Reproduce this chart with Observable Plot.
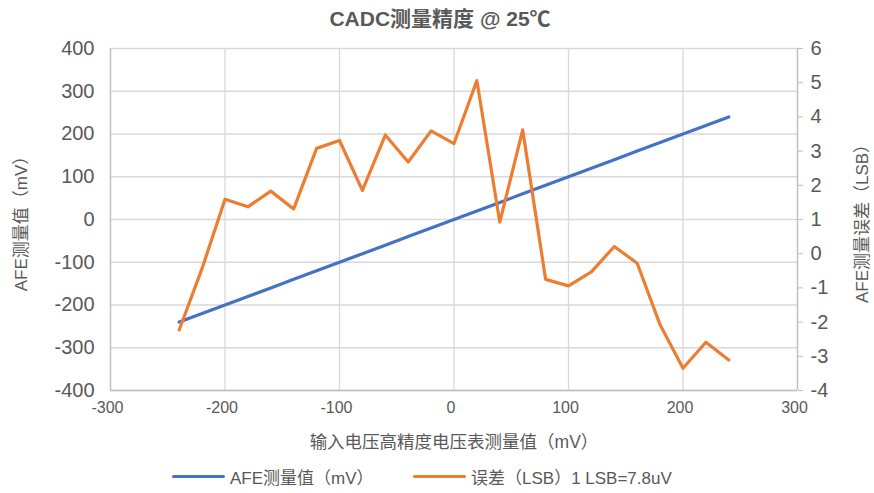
<!DOCTYPE html>
<html>
<head>
<meta charset="utf-8">
<script src="https://cdn.jsdelivr.net/npm/d3@7"></script>
<script src="https://cdn.jsdelivr.net/npm/@observablehq/plot@0.6"></script>
<style>
  body { margin: 0; background: #fff; font-family: "Liberation Sans", "Noto Sans CJK SC", sans-serif; color: #595959; }
  #title { height: 32px; line-height: 38px; text-align: center; font-size: 21px; font-weight: bold; padding-left: 6px; }
  #legend { position: relative; height: 30px; font-size: 17px; }
  .item { position: absolute; top: 4px; display: flex; align-items: center; }
  .sw { display: inline-block; width: 53px; height: 3.5px; margin-right: 5px; border-radius: 2px; }
</style>
</head>
<body>
<div id="title">CADC测量精度 @ 25℃</div>
<div id="chart"></div>
<div id="legend">
  <div class="item" style="left:172px"><span class="sw" style="background:#4472C4"></span>AFE测量值（mV）</div>
  <div class="item" style="left:413px"><span class="sw" style="background:#ED7D31"></span>误差（LSB）1 LSB=7.8uV</div>
</div>
<script>
// input voltage from high-precision voltmeter (mV)
const inputMv = [-240,-220,-200,-180,-160,-140,-120,-100,-80,-60,-40,-20,0,20,40,60,80,100,120,140,160,180,200,220,240];
// AFE measured value (mV)
const afeMv = [-240,-220,-200,-180,-160,-140,-120,-100,-80,-60,-40,-20,0,20,40,60,80,100,120,140,160,180,200,220,240];
// error (LSB)
const errLsb = [-2.23,-0.43,1.59,1.37,1.83,1.31,3.08,3.31,1.85,3.47,2.68,3.59,3.22,5.06,0.92,3.62,-0.75,-0.94,-0.53,0.21,-0.28,-2.08,-3.35,-2.59,-3.11];
const xTicks = [-300,-200,-100,0,100,200,300];
const yTicks = [-400,-300,-200,-100,0,100,200,300,400];
const y2Ticks = [-4,-3,-2,-1,0,1,2,3,4,5,6];

// secondary axis mapping: [-4,6] -> [-400,400]
const toY = v => (v + 4) * 80 - 400;
const fromY = y => (y + 400) / 80 - 4;

const afeData = inputMv.map((x, i) => ({x, y: afeMv[i]}));
const errData = inputMv.map((x, i) => ({x, y: toY(errLsb[i])}));

const fmt = d => String(d);
const grid = "#d9d9d9";
const axisCol = "#bfbfbf";

const chart = Plot.plot({
  width: 874,
  height: 428,
  marginTop: 16,
  marginBottom: 70,
  marginLeft: 110,
  marginRight: 77,
  style: {fontFamily: '"Liberation Sans", "Noto Sans CJK SC", sans-serif', color: "#595959", background: "#fff"},
  x: {domain: [-300, 300]},
  y: {domain: [-400, 400]},
  marks: [
    Plot.gridX(xTicks, {stroke: grid, strokeOpacity: 1, strokeWidth: 1.3}),
    Plot.gridY(yTicks, {stroke: grid, strokeOpacity: 1, strokeWidth: 1.3}),
    Plot.ruleX([-300], {stroke: axisCol, strokeWidth: 1.3}),
    Plot.ruleX([300], {stroke: axisCol, strokeWidth: 1.3}),
    Plot.ruleY([-400], {stroke: axisCol, strokeWidth: 1.3}),
    Plot.axisX({ticks: xTicks, tickSize: 0, tickPadding: 11, fontSize: 16, dx: -3, tickFormat: fmt, label: null, fill: "#595959"}),
    Plot.axisX({ticks: [], label: "输入电压高精度电压表测量值（mV）", labelAnchor: "center", labelArrow: "none", labelOffset: 57, dx: -5, fontSize: 17.5, fill: "#595959"}),
    Plot.axisY({ticks: yTicks, tickSize: 0, tickPadding: 16, fontSize: 20, tickFormat: fmt, label: null, fill: "#595959"}),
    Plot.axisY({ticks: [], label: "AFE测量值（mV）", labelAnchor: "center", labelArrow: "none", labelOffset: 96, fontSize: 17, fill: "#595959"}),
    Plot.axisY({anchor: "right", ticks: y2Ticks.map(toY), tickSize: 5, tickPadding: 8, fontSize: 20, stroke: axisCol, tickFormat: d => fmt(Math.round(fromY(d))), label: null, fill: "#595959"}),
    Plot.axisY({anchor: "right", ticks: [], label: "AFE测量误差（LSB）", labelAnchor: "center", labelArrow: "none", labelOffset: 70, fontSize: 17, fill: "#595959"}),
    Plot.line(afeData, {x: "x", y: "y", stroke: "#4472C4", strokeWidth: 3.2, strokeLinecap: "round"}),
    Plot.line(errData, {x: "x", y: "y", stroke: "#ED7D31", strokeWidth: 3.2, strokeLinecap: "round", strokeLinejoin: "round"})
  ]
});
document.getElementById("chart").appendChild(chart);
</script>
</body>
</html>
